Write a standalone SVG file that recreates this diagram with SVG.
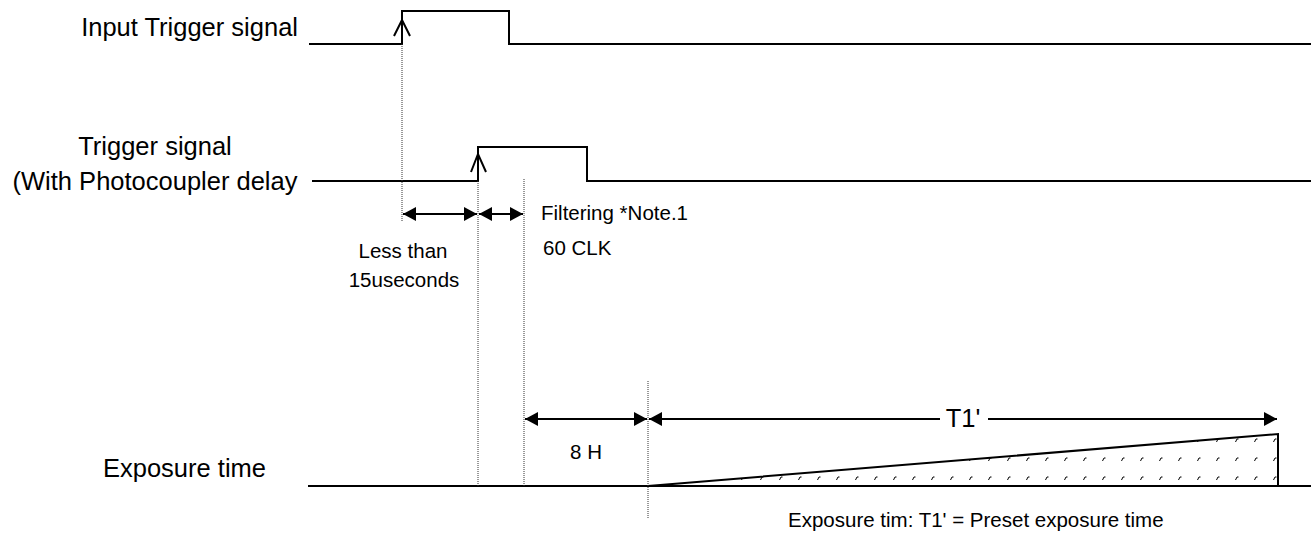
<svg xmlns="http://www.w3.org/2000/svg" width="1314" height="535" viewBox="0 0 1314 535">
<style>
.sig{fill:none;stroke:#000;stroke-width:2}
.dot{fill:none;stroke:#333;stroke-width:1;stroke-dasharray:1 1}
.dim{fill:none;stroke:#000;stroke-width:2}
.open{fill:none;stroke:#000;stroke-width:2}
text{font-family:"Liberation Sans",Arial,sans-serif;fill:#000}
.lbl{font-size:25.5px}
.sm{font-size:20.5px}
</style>
<defs>
<marker id="ah" viewBox="0 0 13 14" refX="13" refY="7" markerWidth="13" markerHeight="14" markerUnits="userSpaceOnUse" orient="auto-start-reverse">
<path d="M0,0 L13,7 L0,14 Z" fill="#000"/>
</marker>
<pattern id="hatch" patternUnits="userSpaceOnUse" x="0" y="0" width="19" height="19">
<path d="M0.5,5 L2,2 L3.5,2" fill="none" stroke="#000" stroke-width="1"/>
</pattern>
</defs>
<g id="labels">
<text class="lbl" x="298" y="36" text-anchor="end">Input Trigger signal</text>
<text class="lbl" x="155" y="155" text-anchor="middle">Trigger signal</text>
<text class="lbl" x="155" y="190" text-anchor="middle">(With Photocoupler delay</text>
<text class="lbl" x="103" y="477">Exposure time</text>
</g>
<g id="input-trigger">
<path class="sig" d="M309,44 H402 V11 H509 V44 H1311"/>
<path class="open" d="M394,36 L402,20 L410,36"/>
</g>
<g id="trigger">
<path class="sig" d="M312,181 H478 V147 H587 V181 H1311"/>
<path class="open" d="M471,172 L478,154 L486,172"/>
</g>
<g id="exposure">
<path class="sig" d="M308,486 H1311"/>
<polygon points="648,486 1278,434 1278,486" fill="url(#hatch)"/>
<path class="sig" d="M648,486 L1278,434 V486"/>
</g>
<g id="connectors">
<path class="dot" d="M402,44 V222"/>
<path class="dot" d="M478,181 V486"/>
<path class="dot" d="M524,179 V486"/>
<path class="dot" d="M648,381 V519"/>
<path class="dim" d="M403,214 H477" marker-start="url(#ah)" marker-end="url(#ah)"/>
<path class="dim" d="M479,214 H523" marker-start="url(#ah)" marker-end="url(#ah)"/>
<path class="dim" d="M525,419 H647" marker-start="url(#ah)" marker-end="url(#ah)"/>
<path class="dim" d="M649,419 H1277" marker-start="url(#ah)" marker-end="url(#ah)"/>
</g>
<g id="dim-labels">
<text class="sm" x="403" y="258" text-anchor="middle">Less than</text>
<text class="sm" x="404" y="287" text-anchor="middle">15useconds</text>
<text class="sm" x="541" y="220">Filtering *Note.1</text>
<text class="sm" x="543" y="255">60 CLK</text>
<text class="sm" x="586" y="459" text-anchor="middle">8 H</text>
<rect x="940" y="402" width="48" height="30" fill="#fff"/>
<text class="lbl" x="963" y="427" text-anchor="middle">T1'</text>
<text class="sm" x="788" y="527">Exposure tim: T1' = Preset exposure time</text>
</g>
</svg>
